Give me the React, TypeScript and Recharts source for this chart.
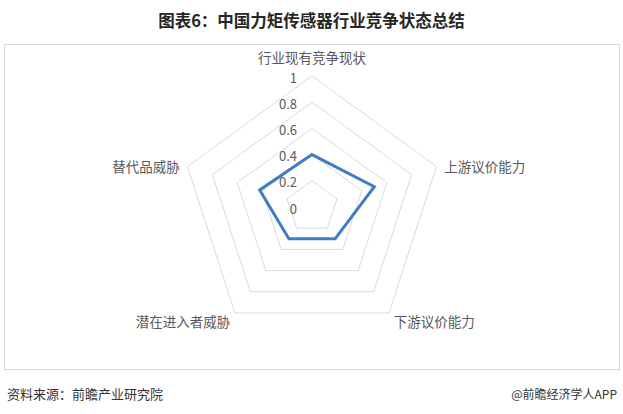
import React from "react";
import { RadarChart, Radar, PolarGrid, PolarAngleAxis, PolarRadiusAxis } from "recharts";

const factors = ["行业现有竞争现状", "上游议价能力", "下游议价能力", "潜在进入者威胁", "替代品威胁"];
const scores = [0.4, 0.5, 0.3, 0.3, 0.42];
const radiusTicks = [0, 0.2, 0.4, 0.6, 0.8, 1];

const data = factors.map((name, i) => ({ name, value: scores[i] }));

const font = '"Microsoft YaHei", "Noto Sans CJK SC", sans-serif';

const AngleTick = (props: any) => {
  const { x, y, textAnchor, payload } = props;
  const isTop = textAnchor === "middle";
  return (
    <text
      x={x}
      y={isTop ? y - 11 : y + 2}
      textAnchor={textAnchor}
      dominantBaseline="central"
      fontSize={13.5}
      fill="#595959"
      fontFamily={font}
    >
      {payload.value}
    </text>
  );
};

const RadiusTick = (props: any) => {
  const { x, y, payload } = props;
  return (
    <text
      x={x - 15}
      y={y + 1}
      textAnchor="end"
      dominantBaseline="central"
      fontSize={13}
      fill="#595959"
      fontFamily={font}
    >
      {payload.value}
    </text>
  );
};

export default function App() {
  return (
    <div
      style={{
        position: "absolute",
        left: 0,
        top: 0,
        width: 623,
        height: 414,
        background: "#fff",
        fontFamily: font,
      }}
    >
      <div
        style={{
          position: "absolute",
          top: 8,
          left: 0,
          width: 623,
          textAlign: "center",
          fontSize: 16.5,
          fontWeight: "bold",
          color: "#262626",
        }}
      >
        图表6：中国力矩传感器行业竞争状态总结
      </div>
      <div
        style={{
          position: "absolute",
          left: 4,
          top: 44,
          width: 614,
          height: 324,
          border: "1px solid #d9d9d9",
        }}
      />
      <div style={{ position: "absolute", left: 0, top: 0 }}>
        <RadarChart
          width={623}
          height={380}
          data={data}
          cx={312}
          cy={207}
          outerRadius={131}
          margin={{ top: 0, right: 0, bottom: 0, left: 0 }}
        >
          <PolarGrid gridType="polygon" radialLines={false} stroke="#d9d9d9" />
          <PolarAngleAxis dataKey="name" tick={<AngleTick />} tickLine={false} axisLine={false} />
          <PolarRadiusAxis
            angle={90}
            domain={[0, 1]}
            ticks={radiusTicks as any}
            tick={<RadiusTick />}
            axisLine={false}
            tickLine={false}
          />
          <Radar
            dataKey="value"
            stroke="#3f7cc6"
            strokeWidth={3}
            fill="none"
            fillOpacity={0}
            isAnimationActive={false}
          />
        </RadarChart>
      </div>
      <div
        style={{
          position: "absolute",
          left: 7,
          top: 384,
          fontSize: 13,
          color: "#333",
        }}
      >
        资料来源：前瞻产业研究院
      </div>
      <div
        style={{
          position: "absolute",
          right: 6,
          top: 385,
          fontSize: 12,
          color: "#333",
        }}
      >
        @前瞻经济学人APP
      </div>
    </div>
  );
}
